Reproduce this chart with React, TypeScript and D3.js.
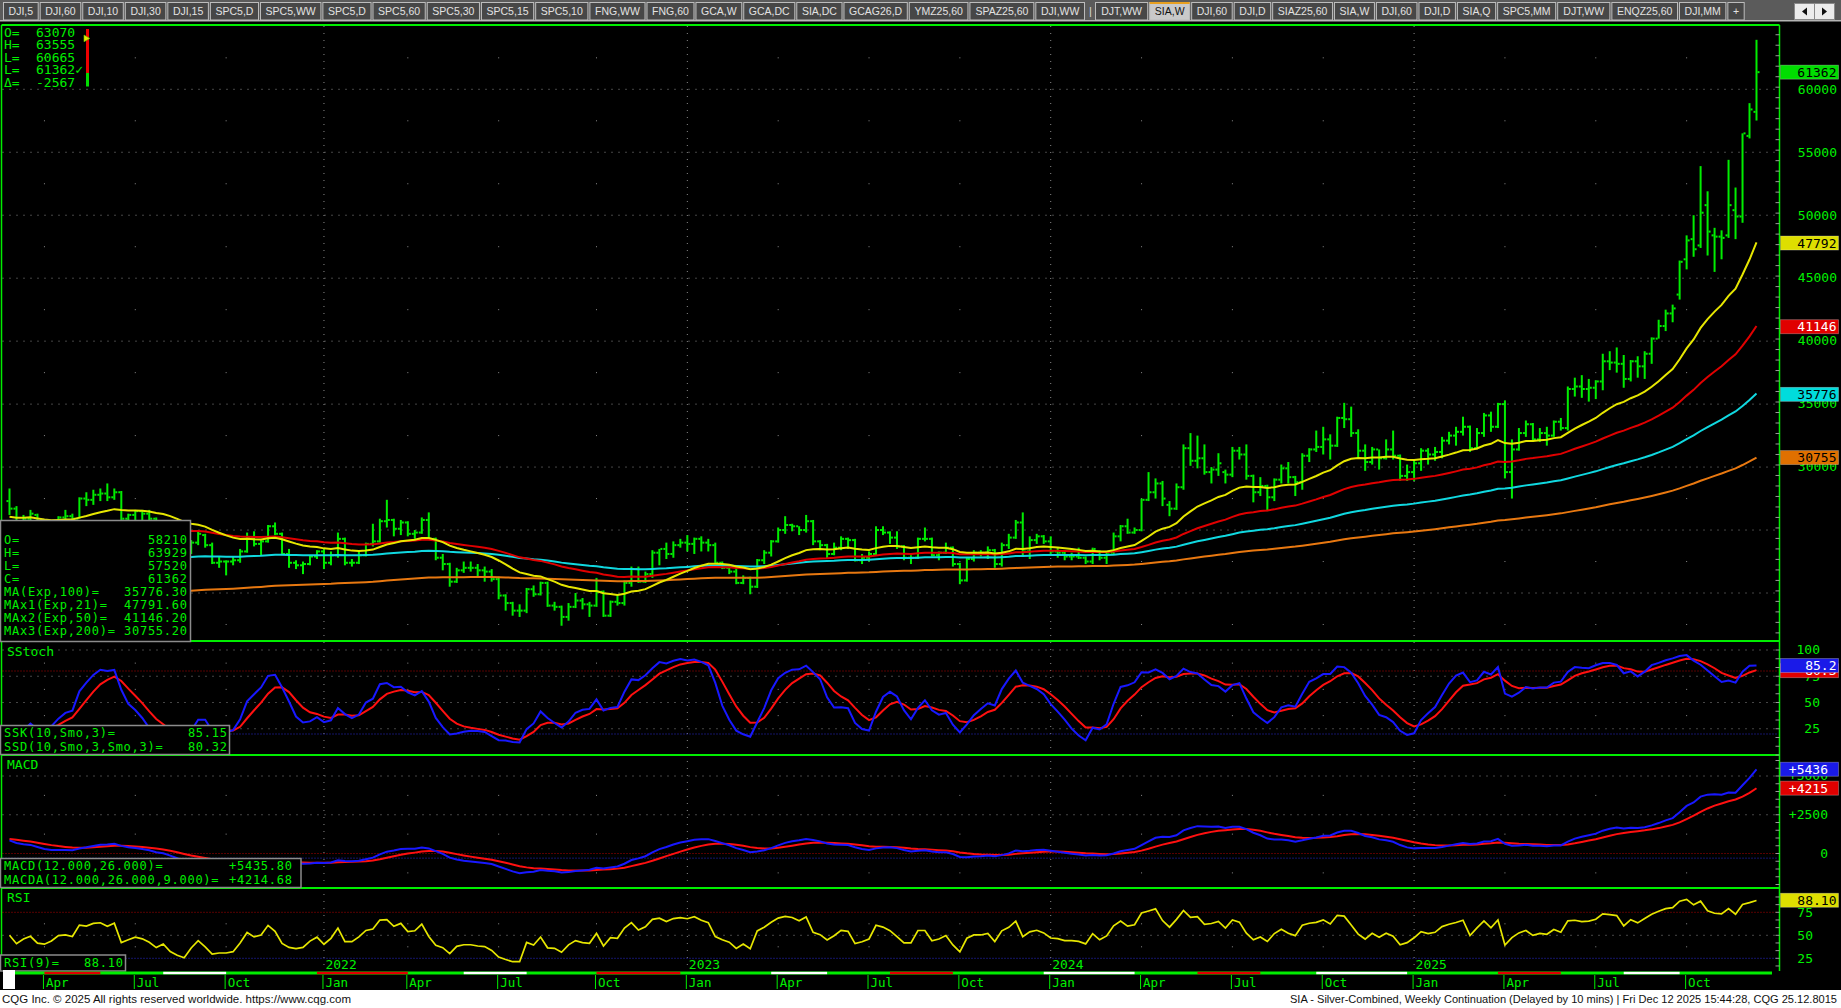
import React from 'react';
import * as d3 from 'd3';

type Bar = [number, number, number, number]; // open, high, low, close

const FIRST_WEEK = '2021-02-26';

const BARS_2021: Bar[] = [
  [27300, 28300, 26200, 26700], [26700, 26900, 24800, 25200], [25200, 26200, 25000, 25900], [25900, 26600, 25500, 26300],
  [26200, 26300, 24600, 25100], [25100, 25200, 23800, 24900], [24900, 25600, 24600, 25300], [25300, 26100, 25000, 26000],
  [26000, 26600, 25700, 26100], [26100, 26300, 25500, 25900], [25900, 27600, 25900, 27500], [27500, 28000, 26900, 27400],
  [27400, 28200, 27000, 27800], [27800, 28300, 27300, 27900], [27900, 28700, 27300, 27600], [27600, 28300, 27400, 28000],
  [28000, 28100, 25800, 25900], [25900, 26300, 25700, 26200], [26200, 26600, 25800, 26500], [26500, 26600, 25800, 26300],
  [26300, 26600, 25800, 25900], [25900, 26000, 24900, 25200], [25200, 25700, 24800, 25500], [25500, 25700, 24300, 24400],
  [24000, 24100, 22400, 23700], [23700, 23900, 22700, 23200], [23200, 24200, 23100, 24000], [24000, 24900, 23800, 24700],
  [24600, 24700, 23600, 23800], [23800, 24000, 22300, 22400], [22400, 22900, 22000, 22500], [22500, 22600, 21400, 22500],
  [22500, 22900, 22200, 22600], [22600, 23500, 22400, 23300], [23300, 24800, 23200, 24400], [24400, 24900, 23700, 23900],
  [23900, 24200, 23000, 24100], [24100, 25400, 24000, 25300], [25300, 25600, 24600, 24700], [24700, 24800, 23000, 23100],
  [23100, 23500, 22000, 22400], [22400, 22600, 21900, 22200], [22200, 22500, 21500, 22300], [22300, 23000, 22200, 22900],
  [22900, 23400, 22700, 23300],
];

const BARS_2022: Bar[] = [
  [23300, 23500, 21900, 22400], [22400, 23300, 22200, 23000], [23000, 24800, 22800, 24300], [24300, 24400, 22200, 22400],
  [22400, 22700, 22100, 22400], [22400, 23400, 22300, 23000], [23000, 24000, 22900, 23900], [23900, 25500, 23700, 24100],
  [24100, 25900, 24000, 25700], [25700, 27400, 25200, 25800], [25800, 25900, 24500, 25100], [25100, 25800, 24600, 25600],
  [25600, 25700, 24500, 24700], [24700, 25000, 24300, 24800], [24800, 26000, 24700, 25800], [25800, 26400, 24200, 24300],
  [24300, 24400, 22600, 22800], [22800, 23100, 21800, 22300], [22300, 22400, 20500, 20900], [20900, 22000, 20800, 21800],
  [21800, 22500, 21600, 22000], [22000, 22500, 21700, 22000], [22000, 22300, 21200, 21800], [21800, 22100, 20900, 21700],
  [21700, 21900, 20900, 21100], [21100, 21300, 19500, 19800], [19800, 19900, 18600, 19200], [19200, 19300, 18200, 18600],
  [18600, 19100, 18100, 18600], [18600, 20400, 18400, 20300], [20300, 20600, 19700, 19900], [19900, 20900, 19800, 20800],
  [20800, 20900, 18900, 19000], [19000, 19300, 18600, 18900], [18900, 19000, 17400, 18100], [18100, 19200, 17800, 18900],
  [18900, 20000, 18800, 19400], [19400, 19600, 18700, 19100], [19100, 19300, 18100, 19000], [19000, 21200, 18900, 20100],
  [20100, 20200, 18100, 18200], [18200, 19400, 18100, 19300], [19300, 19900, 19000, 19200], [19200, 21000, 19000, 20800],
  [20800, 22100, 20500, 21900], [21900, 22100, 20800, 20900], [20900, 21700, 20800, 21500], [21500, 23400, 21200, 23200],
  [23200, 23500, 22200, 23500], [23500, 24000, 22700, 23100], [23100, 24100, 22800, 23800], [23800, 24300, 23600, 24000],
];

const BARS_2023: Bar[] = [
  [24000, 24600, 23300, 23900], [23900, 24400, 23100, 24300], [24300, 24500, 23300, 24000], [24000, 24300, 23300, 23800],
  [23800, 24000, 22300, 22400], [22400, 22500, 21900, 22000], [22000, 22200, 21500, 21700], [21700, 22000, 20700, 20800],
  [20800, 21400, 20700, 21200], [21200, 21300, 19900, 20500], [20500, 22700, 20400, 22600], [22600, 23400, 22300, 23200],
  [23200, 24200, 22900, 24100], [24100, 25200, 24000, 25000], [25000, 26100, 24700, 25400], [25400, 25500, 24900, 25300],
  [25300, 25300, 24600, 25000], [25000, 26200, 24800, 25700], [25700, 25800, 23800, 24100], [24100, 24200, 23400, 23800],
  [23800, 23900, 22700, 23100], [23100, 24000, 23000, 23600], [23600, 24500, 23400, 24300], [24300, 24400, 23500, 24200],
  [24200, 24300, 22500, 22600], [22600, 23100, 22300, 22800], [22800, 23300, 22500, 23100], [23100, 25300, 23000, 25000],
  [25000, 25300, 24600, 24800], [24800, 24900, 23900, 24400], [24400, 24900, 23500, 23700], [23700, 23800, 22600, 22800],
  [22800, 23000, 22300, 22800], [22800, 24400, 22700, 24300], [24300, 25200, 24100, 24300], [24300, 24400, 22900, 23000],
  [23000, 23300, 22600, 23200], [23200, 24000, 23100, 23600], [23600, 23700, 22100, 22300], [22300, 22400, 20700, 21000],
  [21000, 22800, 20900, 22700], [22700, 23400, 22500, 23200], [23200, 23400, 22900, 23200], [23200, 23700, 22700, 23400],
  [23400, 23500, 22000, 22300], [22300, 24000, 22100, 23800], [23800, 24700, 23500, 24400], [24400, 25800, 24300, 25600],
  [25600, 26400, 23000, 23300], [23300, 24500, 22700, 24200], [24200, 24700, 23900, 24500], [24500, 24600, 23900, 24100],
];

const BARS_2024: Bar[] = [
  [24100, 24500, 23100, 23300], [23300, 23600, 22800, 23200], [23200, 23400, 22600, 22900], [22900, 23200, 22600, 22900],
  [22900, 23600, 22700, 22800], [22800, 22900, 22300, 22500], [22500, 23600, 22300, 23500], [23300, 23400, 22600, 22800],
  [22800, 23300, 22300, 23200], [23200, 24800, 23100, 24500], [24500, 25400, 24100, 25300], [25300, 25900, 24700, 24800],
  [24800, 25200, 24700, 25000], [25000, 27500, 24900, 27400], [27400, 29600, 27300, 28000], [28000, 29100, 27500, 28700],
  [28700, 28900, 26900, 27500], [27000, 27300, 26100, 26700], [26700, 28700, 26600, 28400], [28400, 31800, 28200, 31500],
  [31500, 32700, 30100, 30500], [30500, 32500, 29900, 30700], [30700, 31800, 29400, 29600], [29600, 30000, 28700, 29800],
  [29800, 31100, 29300, 30300], [29600, 29800, 28700, 29400], [29400, 31600, 29200, 31300], [31300, 31600, 30600, 31000],
  [31000, 31800, 29000, 29300], [29300, 29400, 27200, 28000], [28000, 29200, 27700, 28500], [28500, 28600, 26500, 27600],
  [27600, 29100, 27300, 29000], [29000, 30200, 28700, 29900], [29900, 30400, 28700, 29200], [29200, 29300, 27700, 28800],
  [28800, 31100, 28200, 30900], [30900, 31500, 30400, 31400], [31400, 32900, 31200, 31600], [31600, 33200, 31000, 32200],
  [32200, 32600, 30600, 31700], [31700, 34000, 31600, 33900], [33900, 35100, 33100, 33800], [33800, 34800, 32400, 32700],
  [32700, 33000, 30700, 31300], [31300, 31800, 29700, 30400], [30400, 31600, 30200, 31400], [31400, 31400, 29800, 30700],
  [30700, 32200, 30600, 31400], [31400, 32900, 30600, 30900], [30900, 31000, 28900, 29300], [29300, 30200, 28900, 29600],
];

const BARS_2025: Bar[] = [
  [29600, 30600, 28900, 30300], [30300, 31500, 29700, 31300], [31300, 31500, 30200, 31000], [31000, 31600, 30500, 31200],
  [31200, 32400, 30700, 32100], [32100, 32800, 31800, 32500], [32500, 33200, 31700, 32800], [32800, 34000, 32500, 33200],
  [33200, 33300, 31200, 31500], [31500, 33100, 31400, 32700], [32700, 34300, 32400, 34100], [34100, 34400, 32800, 33200],
  [33200, 35100, 33100, 35000], [35000, 35300, 29100, 29600], [29600, 32200, 27500, 31400], [31400, 33100, 31300, 32700],
  [32700, 33700, 32400, 33400], [33400, 33500, 32000, 32200], [32200, 33100, 32000, 32700], [32700, 33200, 31700, 32500],
  [32500, 33700, 32400, 33600], [33600, 33900, 32900, 33100], [33100, 36400, 32900, 36200], [36200, 37100, 35600, 36400],
  [36400, 37300, 35500, 36200], [36200, 37000, 35200, 36300], [36300, 36900, 35400, 36800], [36800, 39000, 36100, 38400],
  [38400, 39200, 37700, 38300], [38300, 39500, 37500, 38200], [38200, 38900, 36300, 37000], [37000, 38500, 36800, 38400],
  [38400, 38800, 37100, 38000], [38000, 39200, 37000, 39000], [39000, 40300, 38200, 40200], [40200, 41700, 40200, 41200],
  [41200, 42500, 40800, 42200], [42200, 42900, 41500, 42600], [43700, 46400, 43300, 46300], [46500, 48400, 45700, 48000],
  [48100, 50000, 46700, 47300], [47600, 53900, 47400, 50200], [50800, 51900, 46800, 48700], [48400, 49000, 45500, 48300],
  [48300, 48800, 46500, 48200], [48400, 54400, 48200, 50800], [50400, 52200, 48100, 49900], [49900, 56500, 49400, 56500],
  [56300, 58900, 56100, 58400], [58210, 63929, 57520, 61362],
];

// starting values of the studies at the left edge
const MA_SEEDS = { exp21: 26000, exp50: 23300, exp100: 20700, exp200: 18400 };
const MACD_SEEDS = { fast: 26500, slow: 25600, signal: 950 };
const RSI_SEEDS = { gain: 420, loss: 420 };

const PRICE_GRID = [20000, 25000, 30000, 35000, 40000, 45000, 50000, 55000, 60000];
const PRICE_LABELS = [30000, 35000, 40000, 45000, 50000, 55000, 60000];
const STOCH_LABELS = [25, 50, 75, 100];
const MACD_LABELS = [0, 2500, 5000];
const RSI_LABELS = [25, 50, 75];

const TOP_BOX = [['O=', '63070'], ['H=', '63555'], ['L=', '60665'], ['L=', '61362\u2713'], ['\u0394=', '-2567']];
const MAIN_LEGEND = [
  ['O=', '58210'], ['H=', '63929'], ['L=', '57520'], ['C=', '61362'],
  ['MA(Exp,100)=', '35776.30'], ['MAx1(Exp,21)=', '47791.60'], ['MAx2(Exp,50)=', '41146.20'], ['MAx3(Exp,200)=', '30755.20'],
];
const STOCH_LEGEND = [['SSK(10,Smo,3)=', '85.15'], ['SSD(10,Smo,3,Smo,3)=', '80.32']];
const MACD_LEGEND = [['MACD(12.000,26.000)=', '+5435.80'], ['MACDA(12.000,26.000,9.000)=', '+4214.68']];
const RSI_LEGEND = [['RSI(9)=', '88.10']];

const LAST = { close: 61362, ma21: 47792, ma50: 41146, ma100: 35776, ma200: 30755, ssk: 85.2, ssd: 80.3, macd: 5436, macda: 4215, rsi: 88.1 };

const RED_PERIODS = [
  ['2021-04-02', '2021-05-28'], ['2021-12-31', '2022-04-01'], ['2022-10-07', '2022-12-30'],
  ['2023-07-28', '2023-09-29'], ['2024-05-31', '2024-08-02'], ['2025-03-28', '2025-05-30'],
];
const WHITE_PERIODS = [
  ['2021-07-30', '2021-10-01'], ['2022-05-27', '2022-07-29'], ['2023-03-31', '2023-05-26'],
  ['2023-12-29', '2024-03-29'], ['2024-09-27', '2024-12-27'], ['2025-08-01', '2025-09-26'],
];

const TAB_LABELS = ['DJI,5', 'DJI,60', 'DJI,10', 'DJI,30', 'DJI,15', 'SPC5,D', 'SPC5,WW', 'SPC5,D', 'SPC5,60', 'SPC5,30',
  'SPC5,15', 'SPC5,10', 'FNG,WW', 'FNG,60', 'GCA,W', 'GCA,DC', 'SIA,DC', 'GCAG26,D', 'YMZ25,60', 'SPAZ25,60', 'DJI,WW', '|',
  'DJT,WW', 'SIA,W', 'DJI,60', 'DJI,D', 'SIAZ25,60', 'SIA,W', 'DJI,60', 'DJI,D', 'SIA,Q', 'SPC5,MM', 'DJT,WW', 'ENQZ25,60',
  'DJI,MM', '+'];
const ACTIVE_TAB = 'SIA,W';

const FOOTER_LEFT = 'CQG Inc. \u00a9 2025 All rights reserved worldwide. https://www.cqg.com';
const FOOTER_RIGHT = 'SIA - Silver-Combined, Weekly Continuation (Delayed by 10 mins) | Fri Dec 12 2025 15:44:28, CQG 25.12.8015';

// ---------- derived series ----------
const ALL: Bar[] = [...BARS_2021, ...BARS_2022, ...BARS_2023, ...BARS_2024, ...BARS_2025];
const N = ALL.length;
const parse = d3.timeParse('%Y-%m-%d');
const T0 = parse(FIRST_WEEK) as Date;
const DATES = ALL.map((_, i) => d3.timeWeek.offset(T0, i));
const CLOSES = ALL.map((b) => b[3]);
const HIGHS = ALL.map((b) => b[1]);
const LOWS = ALL.map((b) => b[2]);

function ema(vals: number[], period: number, seed: number) {
  const a = 2 / (period + 1);
  let prev = seed;
  return vals.map((v) => (prev = prev + a * (v - prev)));
}
function smo(vals: number[], n: number) {
  let prev = vals[0];
  return vals.map((v, i) => (i === 0 ? v : (prev = prev + (v - prev) / n)));
}

const MA21 = ema(CLOSES, 21, MA_SEEDS.exp21);
const MA50 = ema(CLOSES, 50, MA_SEEDS.exp50);
const MA100 = ema(CLOSES, 100, MA_SEEDS.exp100);
const MA200 = ema(CLOSES, 200, MA_SEEDS.exp200);

const RAWK = CLOSES.map((c, i) => {
  const lo = d3.min(LOWS.slice(Math.max(0, i - 9), i + 1)) as number;
  const hi = d3.max(HIGHS.slice(Math.max(0, i - 9), i + 1)) as number;
  return hi === lo ? 50 : ((c - lo) / (hi - lo)) * 100;
});
const SSK = smo(RAWK, 3);
const SSD = smo(SSK, 3);

const EMA12 = ema(CLOSES, 12, MACD_SEEDS.fast);
const EMA26 = ema(CLOSES, 26, MACD_SEEDS.slow);
const MACD = EMA12.map((v, i) => v - EMA26[i]);
const SIGNAL = ema(MACD, 9, MACD_SEEDS.signal);

const RSI = (() => {
  let ag = RSI_SEEDS.gain;
  let al = RSI_SEEDS.loss;
  return CLOSES.map((c, i) => {
    if (i > 0) {
      const d = c - CLOSES[i - 1];
      ag = (ag * 8 + Math.max(d, 0)) / 9;
      al = (al * 8 + Math.max(-d, 0)) / 9;
    }
    return 100 - 100 / (1 + ag / al);
  });
})();

// ---------- layout ----------
const W = 1841;
const H = 1008;
const PL = 1.5;
const PR = 1779.5;
const MAIN = { top: 25, bottom: 641 };
const STO = { top: 641, bottom: 755 };
const MAC = { top: 755, bottom: 888 };
const RSP = { top: 888, bottom: 971 };

const GREEN = '#00ee00';
const TXT = '#00f000';
const GRID = '#8a8a8a';
const MONO = "'DejaVu Sans Mono', 'Liberation Mono', monospace";
const SANS = "'Liberation Sans', Arial, sans-serif";

const x = d3.scaleTime().domain([DATES[0], DATES[N - 1]]).range([9.5, 1756.5]);
const yP = d3.scaleLinear().domain([20000, 60000]).range([593, 89.3]);
const yS = d3.scaleLinear().domain([0, 100]).range([755, 650]);
const yM = d3.scaleLinear().domain([0, 5000]).range([853.5, 776]);
const yR = d3.scaleLinear().domain([0, 100]).range([981.3, 889.3]);

const QUARTERS = DATES.map((d, i) => ({ d, i })).filter(
  ({ d, i }) => i > 0 && d.getMonth() !== DATES[i - 1].getMonth() && d.getMonth() % 3 === 0,
);
const monthFmt = d3.timeFormat('%b');
const yearFmt = d3.timeFormat('%Y');

const CW: Record<string, number> = {
  A: 0.667, B: 0.667, C: 0.722, D: 0.722, E: 0.667, F: 0.611, G: 0.778, H: 0.722, I: 0.278, J: 0.5, K: 0.667, L: 0.556,
  M: 0.833, N: 0.722, O: 0.778, P: 0.667, Q: 0.778, R: 0.722, S: 0.667, T: 0.611, U: 0.722, V: 0.667, W: 0.944, X: 0.667,
  Y: 0.667, Z: 0.611, ',': 0.278, '+': 0.584, '|': 0.26,
};
const textW = (s: string, fs: number) => s.split('').reduce((a, c) => a + (CW[c] ?? 0.556) * fs, 0);

function lineOf(vals: number[], y: d3.ScaleLinear<number, number>) {
  return d3.line<number>().x((_, i) => x(DATES[i])).y((v) => y(v))(vals) || '';
}

function ValueBox({ y, text, fill, color, right }: { y: number; text: string; fill: string; color: string; right: number }) {
  return (
    <g>
      <rect x={1780.5} y={y - 7} width={58} height={14} fill={fill} stroke="#ffffff55" strokeWidth={0.8} />
      <text x={right} y={y + 4.6} textAnchor="end" fill={color} fontSize={13} fontFamily={MONO}>{text}</text>
    </g>
  );
}

function Legend({ x0, y0, w, h, rows, valueX, firstBase, step }: {
  x0: number; y0: number; w: number; h: number; rows: string[][]; valueX: number; firstBase: number; step: number;
}) {
  return (
    <g>
      <rect x={x0} y={y0} width={w} height={h} fill="#000" stroke="#8c8c8c" strokeWidth={1.5} />
      {rows.map((r, k) => (
        <g key={k} fontFamily={MONO} fontSize={12} fill={TXT} style={{ letterSpacing: '0.75px' }}>
          <text x={4} y={firstBase + k * step}>{r[0]}</text>
          <text x={valueX + 0.75} y={firstBase + k * step} textAnchor="end">{r[1]}</text>
        </g>
      ))}
    </g>
  );
}

export default function App() {
  // tabs
  let tx = 3;
  const tabs = TAB_LABELS.map((label) => {
    if (label === '|') {
      const t = { label, x: tx, w: 8, sep: true };
      tx += 9;
      return t;
    }
    const w = textW(label, 10.5) + 10.2;
    const t = { label, x: tx, w, sep: false };
    tx += w + 2;
    return t;
  });
  let activeUsed = false;

  const barW = 2;
  const midLevels = (lo: number, hi: number, step: number) => d3.range(lo, hi + 0.001, step);

  const dotsAt = (ys: number[]) =>
    QUARTERS.filter((q) => q.d.getMonth() !== 0).flatMap((q) =>
      ys.map((yy, k) => <rect key={`${q.i}-${k}-${yy}`} x={x(q.d) - 0.5} y={yy - 0.5} width={1} height={1} fill={GRID} />),
    );

  const hDots = (yy: number, color: string, key: string, dash = '1 6') => (
    <line key={key} x1={PL + 1} x2={PR - 1} y1={yy} y2={yy} stroke={color} strokeWidth={1} strokeDasharray={dash} />
  );

  return (
    <div style={{ position: 'absolute', left: 0, top: 0, width: W, height: H, background: '#fff' }}>
      <svg width={W} height={H} style={{ display: 'block' }}>
        <defs>
          <clipPath id="cMain"><rect x={PL + 1} y={MAIN.top + 1} width={PR - PL - 2} height={MAIN.bottom - MAIN.top - 2} /></clipPath>
          <clipPath id="cSto"><rect x={PL + 1} y={STO.top + 1} width={PR - PL - 2} height={STO.bottom - STO.top - 2} /></clipPath>
          <clipPath id="cMac"><rect x={PL + 1} y={MAC.top + 1} width={PR - PL - 2} height={MAC.bottom - MAC.top - 2} /></clipPath>
          <clipPath id="cRsi"><rect x={PL + 1} y={RSP.top + 1} width={PR - PL - 2} height={RSP.bottom - RSP.top - 2} /></clipPath>
        </defs>

        {/* backgrounds */}
        <rect x={0} y={0} width={W} height={H} fill="#ffffff" />
        <rect x={0} y={21} width={W} height={969} fill="#000000" />

        {/* tab bar */}
        <rect x={0} y={0} width={W} height={21} fill="#5b5b5b" />
        <rect x={0} y={20} width={W} height={1.5} fill="#b4b4b4" />
        {tabs.map((t, k) => {
          if (t.sep) {
            return <text key={k} x={t.x + 3} y={15} fill="#d8d8d8" fontSize={11} fontFamily={SANS}>|</text>;
          }
          const active = t.label === ACTIVE_TAB && !activeUsed;
          if (active) activeUsed = true;
          return (
            <g key={k}>
              <rect x={t.x + 0.5} y={2.5} width={t.w} height={17.5} fill={active ? '#c9c9c9' : '#474747'} stroke="#bdbdbd" strokeWidth={1} />
              {active && <rect x={t.x + 0.5} y={2} width={t.w} height={2} fill="#e8a020" />}
              <text x={t.x + 0.5 + t.w / 2} y={15.2} textAnchor="middle" fontSize={10.5}
                fontFamily={SANS} fill={active ? '#111' : '#e2e2e2'}>{t.label}</text>
            </g>
          );
        })}
        <rect x={1794.5} y={3.5} width={40} height={16} fill="#ececec" stroke="#8a8a8a" />
        <line x1={1814.5} x2={1814.5} y1={4} y2={19} stroke="#8a8a8a" />
        <path d="M1807,7.5 L1802,11.5 L1807,15.5 Z" fill="#111" />
        <path d="M1822,7.5 L1827,11.5 L1822,15.5 Z" fill="#111" />

        {/* grid: year lines */}
        {QUARTERS.filter((q) => q.d.getMonth() === 0).map((q) => (
          <line key={`yl${q.i}`} x1={x(q.d)} x2={x(q.d)} y1={MAIN.top + 1} y2={RSP.bottom} stroke={GRID} strokeWidth={1} strokeDasharray="1 6" />
        ))}
        {/* main grid */}
        {PRICE_GRID.map((v) => hDots(yP(v), GRID, `pg${v}`))}
        {dotsAt(midLevels(17500, 62500, 5000).map((v) => yP(v)))}
        {/* stoch grid */}
        {STOCH_LABELS.map((v) => hDots(yS(v), GRID, `sg${v}`))}
        {hDots(yS(80), '#b00000', 'sr', '1 2')}
        {hDots(yS(20), '#2a2ad0', 'sb', '1 2')}
        {dotsAt([87.5, 62.5, 37.5].map((v) => yS(v)))}
        {/* macd grid */}
        {[2500, 5000].map((v) => hDots(yM(v), GRID, `mg${v}`))}
        {hDots(yM(0), '#b00000', 'mr', '1 2')}
        {hDots(yM(-300), '#2a2ad0', 'mb', '1 2')}
        {dotsAt([3750, 1250, -1250].map((v) => yM(v)))}
        {/* rsi grid */}
        {hDots(yR(50), GRID, 'rg50')}
        {hDots(yR(75), '#b00000', 'rr', '1 2')}
        {hDots(yR(25), '#2a2ad0', 'rb', '1 2')}
        {dotsAt([62.5, 37.5].map((v) => yR(v)))}

        {/* price bars and moving averages */}
        <g clipPath="url(#cMain)">
          {ALL.map((b, i) => {
            const cx = x(DATES[i]);
            const [o, h, l, c] = b;
            return (
              <g key={`b${i}`} fill={GREEN}>
                <rect x={cx - barW / 2} y={yP(h)} width={barW} height={Math.max(1, yP(l) - yP(h))} />
                <rect x={cx - barW / 2 - 2} y={yP(o) - 1} width={2} height={2} />
                <rect x={cx + barW / 2} y={yP(c) - 1} width={2} height={2} />
              </g>
            );
          })}
          <path d={lineOf(MA200, yP)} fill="none" stroke="#e87810" strokeWidth={2} />
          <path d={lineOf(MA100, yP)} fill="none" stroke="#10d8e0" strokeWidth={2} />
          <path d={lineOf(MA50, yP)} fill="none" stroke="#e00000" strokeWidth={2} />
          <path d={lineOf(MA21, yP)} fill="none" stroke="#e6e600" strokeWidth={2} />
        </g>

        {/* stochastic */}
        <g clipPath="url(#cSto)">
          <path d={lineOf(SSD, yS)} fill="none" stroke="#ff1010" strokeWidth={2} />
          <path d={lineOf(SSK, yS)} fill="none" stroke="#1818ff" strokeWidth={2} />
        </g>
        {/* macd */}
        <g clipPath="url(#cMac)">
          <path d={lineOf(SIGNAL, yM)} fill="none" stroke="#ff1010" strokeWidth={2} />
          <path d={lineOf(MACD, yM)} fill="none" stroke="#1818ff" strokeWidth={2} />
        </g>
        {/* rsi */}
        <g clipPath="url(#cRsi)">
          <path d={lineOf(RSI, yR)} fill="none" stroke="#e6e600" strokeWidth={1.7} />
        </g>

        {/* panel frames */}
        <line x1={PL} x2={PL} y1={MAIN.top} y2={RSP.bottom} stroke={GREEN} strokeWidth={1.5} />
        <line x1={PR} x2={PR} y1={MAIN.top} y2={RSP.bottom} stroke={GREEN} strokeWidth={1.5} />
        {[MAIN.top, STO.top, MAC.top, RSP.top].map((yy) => (
          <line key={`sep${yy}`} x1={PL} x2={PR} y1={yy} y2={yy} stroke={GREEN} strokeWidth={2} />
        ))}
        {d3.range(16000, 65001, 5000 / 6).map((v, k) => {
          const yy = yP(v);
          return yy > MAIN.top + 2 && yy < MAIN.bottom - 2 ? (
            <line key={`mt${k}`} x1={PR - 4} x2={PR} y1={yy} y2={yy} stroke="#9a9a9a" />
          ) : null;
        })}
        {d3.range(0, 101, 25 / 3).map((v, k) => (
          <line key={`st${k}`} x1={PR - 4} x2={PR} y1={yS(v)} y2={yS(v)} stroke="#9a9a9a" />
        ))}
        {d3.range(-2000, 6001, 500).map((v, k) => {
          const yy = yM(v);
          return yy > MAC.top + 2 && yy < MAC.bottom - 2 ? (
            <line key={`mct${k}`} x1={PR - 4} x2={PR} y1={yy} y2={yy} stroke="#9a9a9a" />
          ) : null;
        })}
        {d3.range(0, 101, 25 / 3).map((v, k) => {
          const yy = yR(v);
          return yy > RSP.top + 2 && yy < RSP.bottom - 2 ? (
            <line key={`rt${k}`} x1={PR - 4} x2={PR} y1={yy} y2={yy} stroke="#9a9a9a" />
          ) : null;
        })}

        {/* panel titles */}
        <g fontFamily={MONO} fontSize={13} fill={TXT}>
          <text x={7} y={655.5}>SStoch</text>
          <text x={7} y={769}>MACD</text>
          <text x={7} y={902}>RSI</text>
        </g>

        {/* top-left quote box */}
        <g fontFamily={MONO} fontSize={13} fill={TXT}>
          {TOP_BOX.map((r, k) => (
            <g key={`tb${k}`}>
              <text x={4} y={36.5 + k * 12.5}>{r[0]}</text>
              <text x={36} y={36.5 + k * 12.5}>{r[1]}</text>
            </g>
          ))}
        </g>
        <rect x={86} y={29} width={3} height={44} fill="#ee0000" />
        <rect x={86} y={73} width={3} height={13.5} fill="#00dd00" />
        <path d="M84,35 L89.8,38.4 L84,41.8 Z" fill="#e6e600" stroke="#66cc00" strokeWidth={0.6} />

        {/* legends */}
        <Legend x0={0.5} y0={520.5} w={190} h={121} rows={MAIN_LEGEND} valueX={187} firstBase={544.3} step={13.0} />
        <Legend x0={0.5} y0={725.5} w={229} h={29} rows={STOCH_LEGEND} valueX={227} firstBase={737.3} step={13.3} />
        <Legend x0={0.5} y0={858.5} w={300.5} h={29} rows={MACD_LEGEND} valueX={292} firstBase={870.3} step={13.3} />
        <Legend x0={0.5} y0={955} w={125} h={16} rows={RSI_LEGEND} valueX={123} firstBase={967.3} step={13} />

        {/* right axis labels */}
        <g fontFamily={MONO} fontSize={13} fill={TXT}>
          {PRICE_LABELS.map((v) => (
            <text key={`pl${v}`} x={1837} y={yP(v) + 4.3} textAnchor="end">{v}</text>
          ))}
          {STOCH_LABELS.map((v) => (
            <text key={`sl${v}`} x={1820} y={yS(v) + 4.3} textAnchor="end">{v}</text>
          ))}
          {MACD_LABELS.map((v) => (
            <text key={`ml${v}`} x={1828} y={yM(v) + 4.3} textAnchor="end">{v === 0 ? '0' : `+${v}`}</text>
          ))}
          {RSI_LABELS.map((v) => (
            <text key={`rl${v}`} x={1813} y={yR(v) + 4.3} textAnchor="end">{v}</text>
          ))}
        </g>
        <ValueBox y={yP(LAST.close)} text={String(LAST.close)} fill="#00dd00" color="#000" right={1836.5} />
        <ValueBox y={yP(LAST.ma21)} text={String(LAST.ma21)} fill="#dede00" color="#000" right={1836.5} />
        <ValueBox y={yP(LAST.ma50)} text={String(LAST.ma50)} fill="#e00000" color="#fff" right={1836.5} />
        <ValueBox y={yP(LAST.ma100)} text={String(LAST.ma100)} fill="#00dcdc" color="#000" right={1836.5} />
        <ValueBox y={yP(LAST.ma200)} text={String(LAST.ma200)} fill="#e07000" color="#000" right={1836.5} />
        <ValueBox y={yS(LAST.ssd)} text={LAST.ssd.toFixed(1)} fill="#e00000" color="#fff" right={1836.5} />
        <ValueBox y={yS(LAST.ssk)} text={LAST.ssk.toFixed(1)} fill="#1a1ae8" color="#fff" right={1836.5} />
        <ValueBox y={yM(LAST.macda)} text={`+${LAST.macda}`} fill="#e00000" color="#fff" right={1828} />
        <ValueBox y={yM(LAST.macd)} text={`+${LAST.macd}`} fill="#1a1ae8" color="#fff" right={1828} />
        <ValueBox y={yR(LAST.rsi)} text={LAST.rsi.toFixed(2)} fill="#dede00" color="#000" right={1836.5} />

        {/* year labels */}
        <g fontFamily={MONO} fontSize={13} fill={TXT}>
          {QUARTERS.filter((q) => q.d.getMonth() === 0).map((q) => (
            <text key={`yr${q.i}`} x={x(q.d) + 1.5} y={969}>{yearFmt(q.d)}</text>
          ))}
        </g>

        {/* period bar */}
        <rect x={15} y={971.5} width={1757} height={3} fill="#00ee00" />
        {RED_PERIODS.map((p, k) => (
          <rect key={`rp${k}`} x={x(parse(p[0]) as Date)} y={971.8} width={x(parse(p[1]) as Date) - x(parse(p[0]) as Date)} height={2.4} fill="#e00000" />
        ))}
        {WHITE_PERIODS.map((p, k) => (
          <rect key={`wp${k}`} x={x(parse(p[0]) as Date)} y={971.8} width={x(parse(p[1]) as Date) - x(parse(p[0]) as Date)} height={2.4} fill="#ffffff" />
        ))}
        <rect x={3} y={970} width={12} height={19} fill="#ffffff" />

        {/* month labels */}
        <g fontFamily={MONO} fontSize={12.5} fill={TXT}>
          {QUARTERS.map((q) => (
            <g key={`mo${q.i}`}>
              <line x1={x(q.d) - 1} x2={x(q.d) - 1} y1={975} y2={989} stroke={GREEN} strokeWidth={1} />
              <text x={x(q.d) + 1.5} y={986.5}>{monthFmt(q.d)}</text>
            </g>
          ))}
        </g>

        {/* footer */}
        <text x={2} y={1002.5} fontSize={11} fontFamily={SANS} fill="#111" textLength={349} lengthAdjust="spacingAndGlyphs">{FOOTER_LEFT}</text>
        <text x={1290} y={1002.5} fontSize={11} fontFamily={SANS} fill="#111" textLength={547} lengthAdjust="spacingAndGlyphs">{FOOTER_RIGHT}</text>
      </svg>
    </div>
  );
}
